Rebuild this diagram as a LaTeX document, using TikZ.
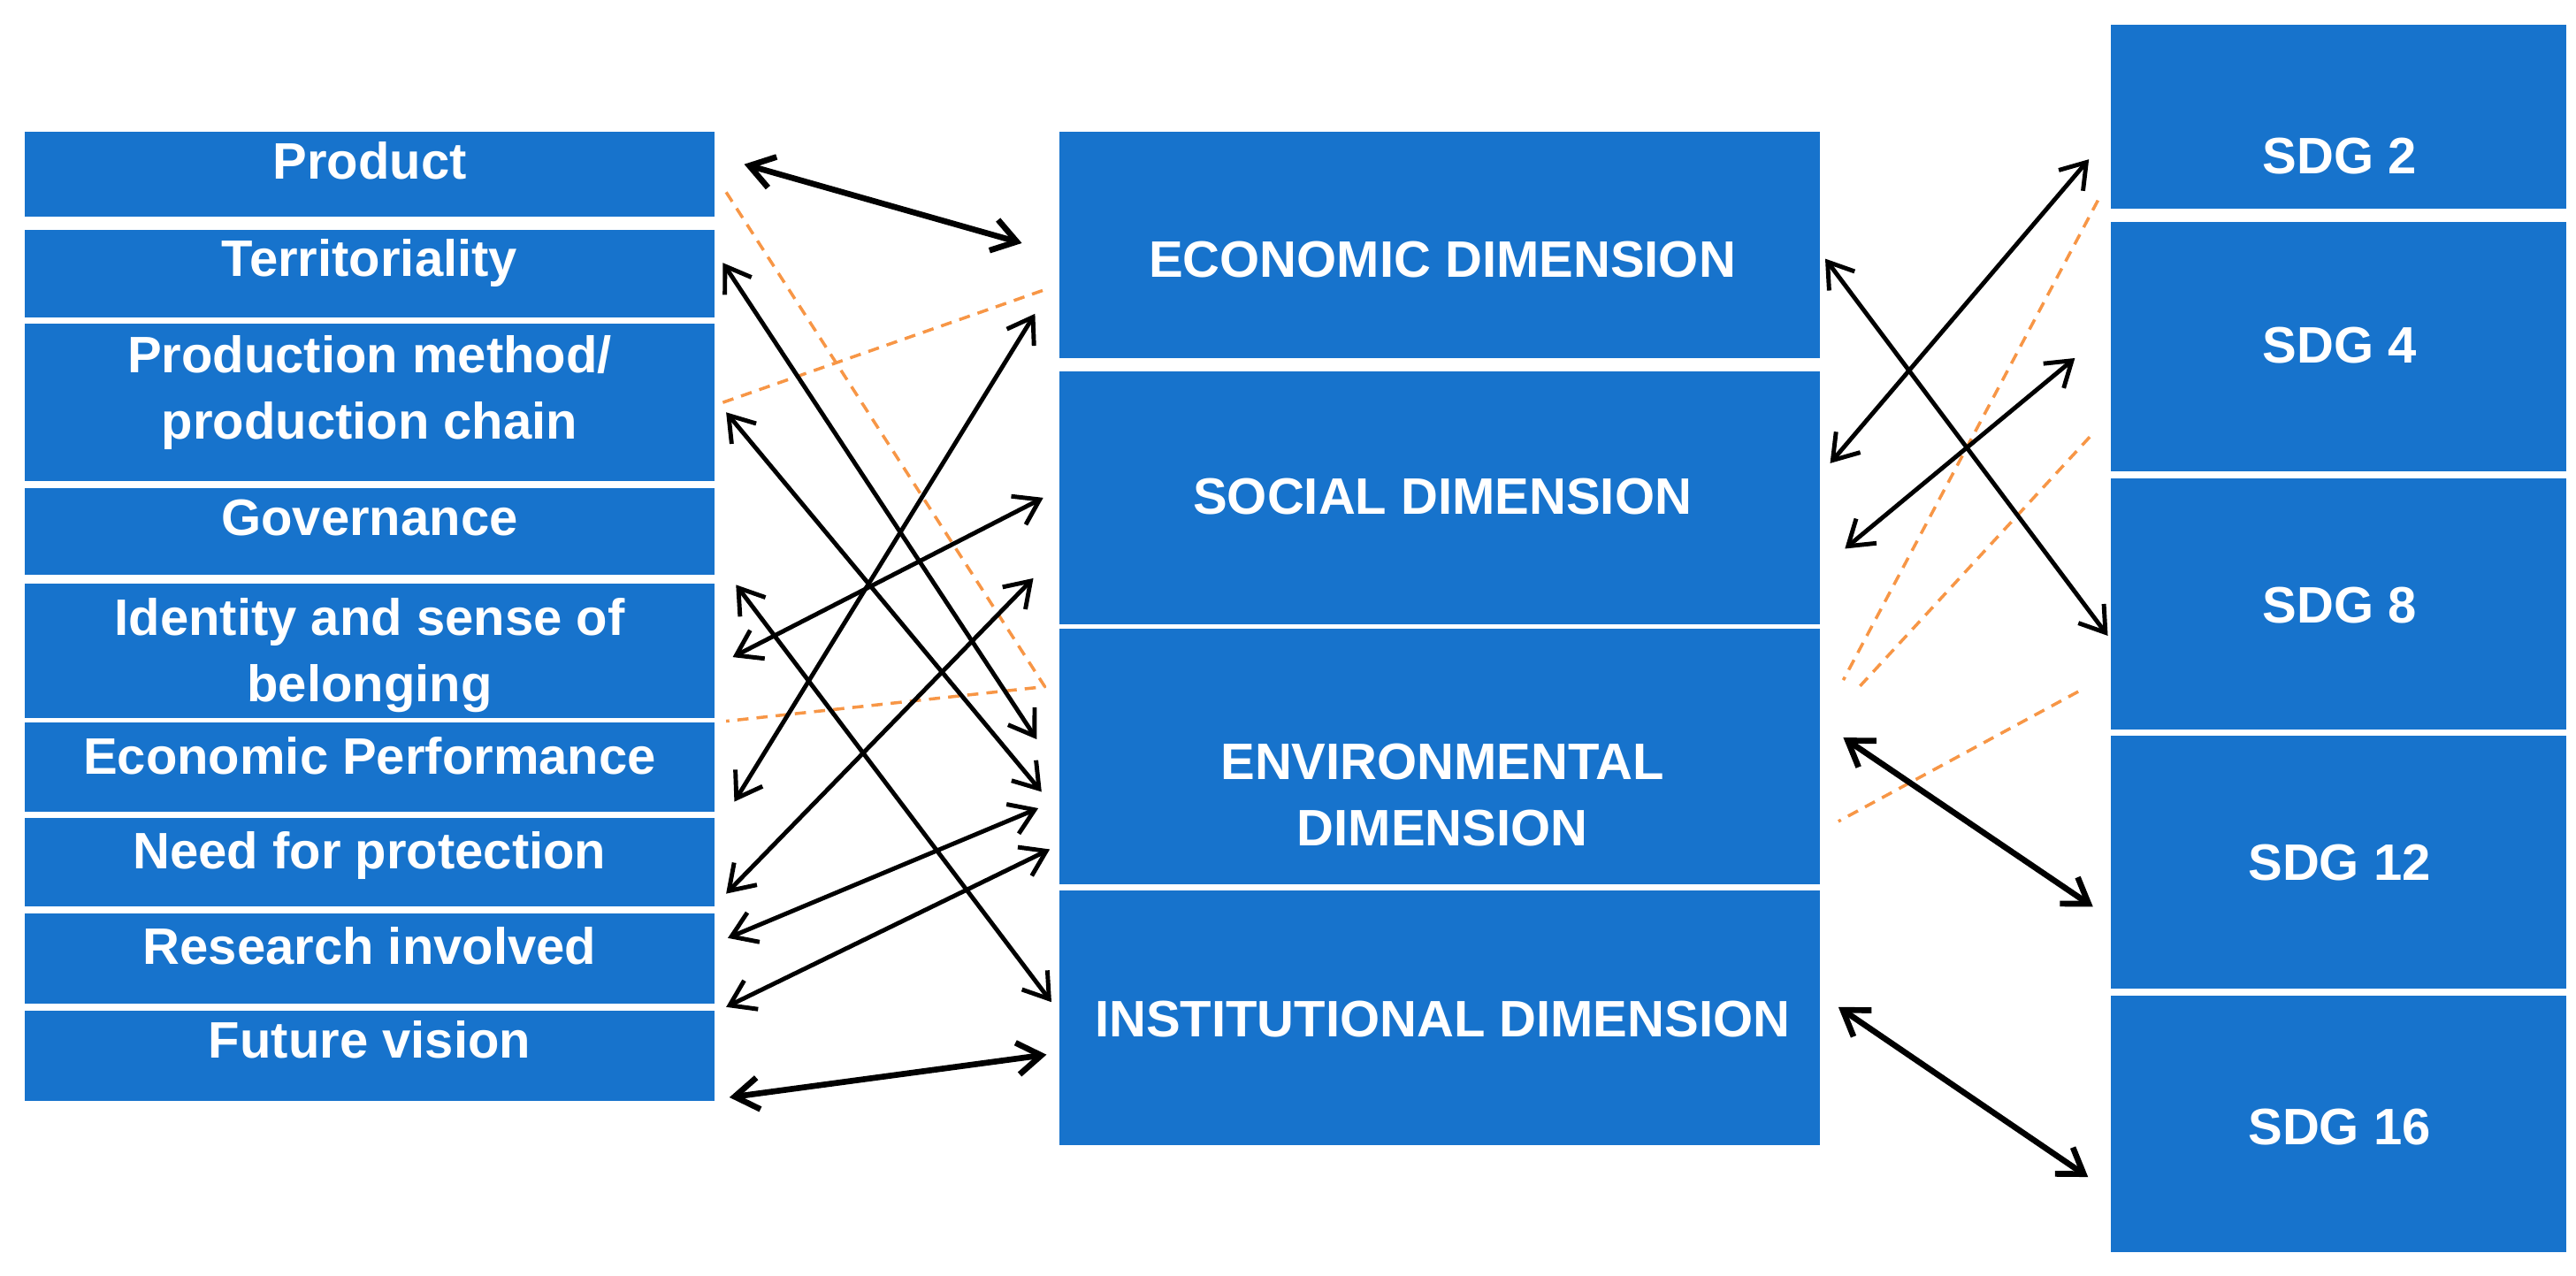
\documentclass[tikz,border=0pt]{standalone}
\usepackage{fontspec}
\setmainfont{Liberation Sans}
\usetikzlibrary{arrows.meta}
\definecolor{boxblue}{RGB}{23,115,204}
\definecolor{dashorange}{RGB}{247,150,70}
\begin{document}
\begin{tikzpicture}[>={Straight Barb[length=2.7mm,width=3.6mm]},line join=round,line cap=round,
	x=0.18578mm,y=-0.18578mm,font=\bfseries\fontsize{16.5}{21.5}\selectfont,
	blk/.style={fill=boxblue,inner sep=0pt,outer sep=0pt},
	lblk/.style={blk,minimum width=78.03mm},
	mblk/.style={blk,minimum width=86.02mm},
	rblk/.style={blk,minimum width=51.46mm},
	txt/.style={text=white,align=center,inner sep=0pt,anchor=base},
	txtc/.style={txt,anchor=center},
	link/.style={<->,line width=1.4pt},
	boldlink/.style={<->,line width=1.9pt},
	orangedash/.style={draw=dashorange,line width=1pt,line cap=butt,dash pattern=on 3.6pt off 2.6pt}]
	\useasboundingbox (0,0) rectangle (1568,776.7);
	\node[lblk,minimum height=9.66mm] (prod) at (225,106) {};
	\node[lblk,minimum height=9.85mm] (terr) at (225,166.5) {};
	\node[lblk,minimum height=17.83mm] (pmeth) at (225,245) {};
	\node[lblk,minimum height=9.85mm] (gov) at (225,323.5) {};
	\node[lblk,minimum height=15.23mm] (ident) at (225,396) {};
	\node[lblk,minimum height=10.03mm] (ecoperf) at (225,467) {};
	\node[lblk,minimum height=10.03mm] (need) at (225,525) {};
	\node[lblk,minimum height=10.22mm] (res) at (225,583.5) {};
	\node[lblk,minimum height=10.22mm] (fut) at (225,642.5) {};
	\node[txt] (prod-t) at (225,109) {Product};
	\node[txt] (terr-t) at (225,168) {Territoriality};
	\node[txtc] (pmeth-t) at (225,239) {Production method/\\production chain};
	\node[txt] (gov-t) at (225,326) {Governance};
	\node[txtc] (ident-t) at (225,399) {Identity and sense of\\belonging};
	\node[txt] (ecoperf-t) at (225,471) {Economic Performance};
	\node[txt] (need-t) at (225,529) {Need for protection};
	\node[txt] (res-t) at (225,587) {Research involved};
	\node[txt] (fut-t) at (225,644) {Future vision};
	\node[mblk,minimum height=25.64mm] (econ) at (876.5,149) {};
	\node[mblk,minimum height=28.61mm] (soc) at (876.5,303) {};
	\node[mblk,minimum height=28.80mm] (env) at (876.5,460.5) {};
	\node[mblk,minimum height=28.80mm] (inst) at (876.5,619.5) {};
	\node[txt] (econ-t) at (878,169) {ECONOMIC DIMENSION};
	\node[txt] (soc-t) at (878,313) {SOCIAL DIMENSION};
	\node[txtc] (env-t) at (878,484) {ENVIRONMENTAL\\DIMENSION};
	\node[txt] (inst-t) at (878,631) {INSTITUTIONAL DIMENSION};
	\node[rblk,minimum height=20.81mm] (sdg2) at (1423.5,71) {};
	\node[rblk,minimum height=28.24mm] (sdg4) at (1423.5,211) {};
	\node[rblk,minimum height=28.42mm] (sdg8) at (1423.5,367.5) {};
	\node[rblk,minimum height=28.61mm] (sdg12) at (1423.5,525) {};
	\node[rblk,minimum height=28.98mm] (sdg16) at (1423.5,684) {};
	\node[txt] (sdg2-t) at (1424,106) {SDG 2};
	\node[txt] (sdg4-t) at (1424,221) {SDG 4};
	\node[txt] (sdg8-t) at (1424,379) {SDG 8};
	\node[txt] (sdg12-t) at (1424,536) {SDG 12};
	\node[txt] (sdg16-t) at (1424,697) {SDG 16};
	\draw (453,100) coordinate (prodE) (622,148) coordinate (econW1)
	(440,160) coordinate (terrE) (631,450) coordinate (envW1)
	(442,251) coordinate (pmethE) (634,482) coordinate (envW2)
	(448,356) coordinate (govE) (640,610) coordinate (instW1)
	(446,400) coordinate (identE) (635,303) coordinate (socW1)
	(447,488) coordinate (ecoperfE) (630,191) coordinate (econW2)
	(442,544) coordinate (needE) (629,352) coordinate (socW2)
	(443,571) coordinate (resE1) (632,492) coordinate (envW3)
	(442,613) coordinate (resE2) (639,517) coordinate (envW4)
	(444,668) coordinate (futE) (637,642) coordinate (instW2)
	(1111,157.5) coordinate (econE) (1283,387) coordinate (sdg8W)
	(1114,282) coordinate (socE1) (1271.5,97) coordinate (sdg2W)
	(1123,334) coordinate (socE2) (1263,218) coordinate (sdg4W)
	(1122,449) coordinate (envE) (1274,552) coordinate (sdg12W)
	(1119,613) coordinate (instE) (1271,716.5) coordinate (sdg16W)
	;
	\draw (442,117) coordinate (o1a) (636,418) coordinate (o1b) (442,439) coordinate (o1c)
	(440,245) coordinate (o2a) (637,176) coordinate (o2b)
	(1277,122) coordinate (o3a) (1122,414) coordinate (o3b)
	(1272,266) coordinate (o4a) (1130,420) coordinate (o4b)
	(1265,421) coordinate (o5a) (1119,500) coordinate (o5b)
	;
	\draw[orangedash] (o1a)--(o1b)--(o1c) (o2a)--(o2b) (o3a)--(o3b) (o4a)--(o4b) (o5a)--(o5b);
	\draw[boldlink] (prodE)--(econW1);
	\draw[link] (terrE)--(envW1);
	\draw[link] (pmethE)--(envW2);
	\draw[link] (govE)--(instW1);
	\draw[link] (identE)--(socW1);
	\draw[link] (ecoperfE)--(econW2);
	\draw[link] (needE)--(socW2);
	\draw[link] (resE1)--(envW3);
	\draw[link] (resE2)--(envW4);
	\draw[boldlink] (futE)--(instW2);
	\draw[link] (econE)--(sdg8W);
	\draw[link] (socE1)--(sdg2W);
	\draw[link] (socE2)--(sdg4W);
	\draw[boldlink] (envE)--(sdg12W);
	\draw[boldlink] (instE)--(sdg16W);
\end{tikzpicture}
\end{document}
